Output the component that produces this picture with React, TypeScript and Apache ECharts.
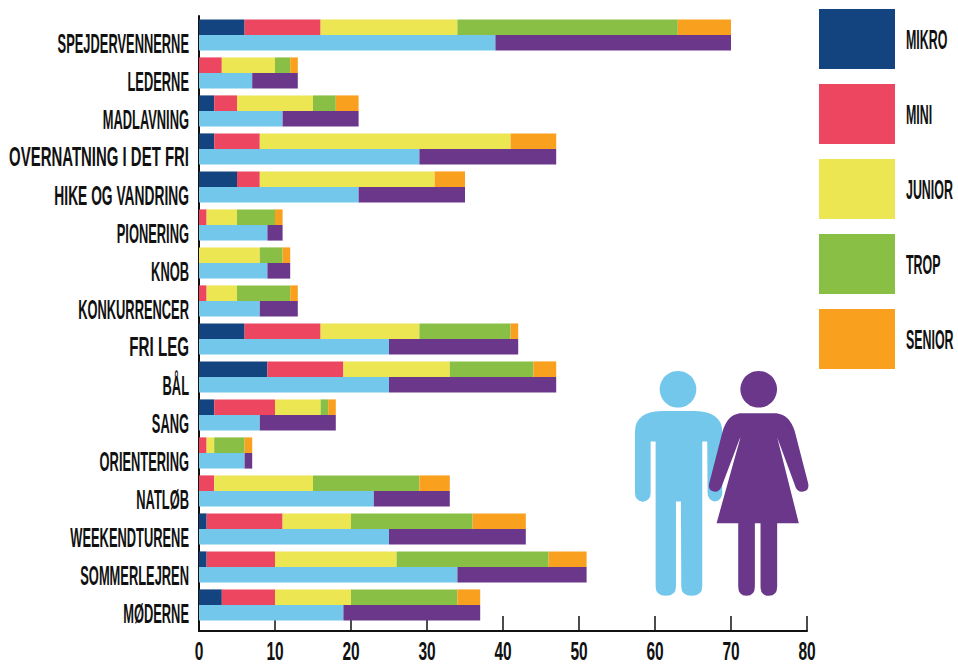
import React, { useEffect, useRef } from "react";
import * as echarts from "echarts";

const categories = ["SPEJDERVENNERNE","LEDERNE","MADLAVNING","OVERNATNING I DET FRI","HIKE OG VANDRING","PIONERING","KNOB","KONKURRENCER","FRI LEG","BÅL","SANG","ORIENTERING","NATLØB","WEEKENDTURENE","SOMMERLEJREN","MØDERNE"];
const mikro =  [6,0,2,2,5,0,0,0,6,9,2,0,0,1,1,3];
const mini =   [10,3,3,6,3,1,0,1,10,10,8,1,2,10,9,7];
const junior = [18,7,10,33,23,4,8,4,13,14,6,1,13,9,16,10];
const trop =   [29,2,3,0,0,5,3,7,12,11,1,4,14,16,20,14];
const senior = [7,1,3,6,4,1,1,1,1,3,1,1,4,7,5,3];
const boys =   [39,7,11,29,21,9,9,8,25,25,8,6,23,25,34,19];
const girls =  [31,6,10,18,14,2,3,5,17,22,10,1,10,18,17,18];
const xTicks = [0,10,20,30,40,50,60,70,80];
const legendNames = ["MIKRO","MINI","JUNIOR","TROP","SENIOR"];

const FONT = '"Liberation Sans", sans-serif';
const MAN = "M45 215 Q45 155 125 153 L225 153 Q307 155 307 215 L307 400 A22 25 0 0 1 263 400 L262 245 L247 245 L247 680 Q247 708 215 708 Q184 708 184 680 L183 425 L168 425 L168 680 Q168 708 138 708 Q107 708 107 680 L107 245 L92 245 L92 400 A23 25 0 0 1 45 400 Z";
const WOMAN = "M360 160 L470 160 Q510 165 525 215 L565 370 Q570 393 548 396 Q530 396 525 375 L475 240 L472 232 L537 490 L472 490 L472 680 Q472 708 447 708 Q422 708 422 680 L422 490 L405 490 L405 680 Q405 708 380 708 Q355 708 355 680 L355 490 L290 490 L362 232 L358 240 L307 375 Q300 396 285 396 Q262 393 268 370 L308 215 Q322 165 360 160 Z";
echarts.graphic.registerShape("manIcon", echarts.graphic.extendPath(MAN, {}));
echarts.graphic.registerShape("womanIcon", echarts.graphic.extendPath(WOMAN, {}));

const stackSeries = (name: string, data: number[], color: string, stack: string) => ({
  name, type: "bar", stack, data, barWidth: 15.6, barGap: 0,
  itemStyle: { color }, emphasis: { disabled: true },
});

const narrowText = (text: string, x: number, y: number, align: string, size: number, scaleX: number) => ({
  type: "text", x, y, scaleX,
  style: { text, align, verticalAlign: "middle", fill: "#111", font: `bold ${size}px ${FONT}` },
});

// The reference lettering has wide word gaps, so labels with spaces run a little wider.
const labelScale = (c: string) =>
  c === "OVERNATNING I DET FRI" ? 0.534 : c === "HIKE OG VANDRING" ? 0.493 : c === "FRI LEG" ? 0.54 : 0.46;

export default function App() {
  const ref = useRef<HTMLDivElement>(null);
  useEffect(() => {
    const chart = echarts.init(ref.current!, undefined, { renderer: "svg" });
    chart.setOption({
      animation: false,
      backgroundColor: "#fff",
      grid: { left: 199, top: 16, width: 608, height: 608, outerBoundsMode: "none" },
      legend: {
        data: legendNames, formatter: () => "",
        orient: "vertical", left: 819, top: 9, padding: 0,
        itemWidth: 76, itemHeight: 60, itemGap: 15, icon: "rect",
      },
      xAxis: {
        type: "value", min: 0, max: 80, interval: 10, position: "bottom", offset: 7,
        axisLine: { show: true, onZero: false, lineStyle: { color: "#111", width: 2 } },
        axisTick: { show: true, inside: true, length: 15, lineStyle: { color: "#111", width: 1.5 } },
        axisLabel: { show: false },
        splitLine: { show: false },
      },
      yAxis: {
        type: "category", inverse: true, data: categories,
        axisLine: { show: true, onZero: false, lineStyle: { color: "#111", width: 2 } },
        axisTick: { show: false },
        axisLabel: { show: false },
      },
      series: [
        stackSeries("MIKRO", mikro, "#134480", "age"),
        stackSeries("MINI", mini, "#EC4660", "age"),
        stackSeries("JUNIOR", junior, "#ECE653", "age"),
        stackSeries("TROP", trop, "#89BF45", "age"),
        stackSeries("SENIOR", senior, "#F9A01F", "age"),
        stackSeries("DRENGE", boys, "#72C7EB", "gender"),
        stackSeries("PIGER", girls, "#6A378B", "gender"),
      ],
    });
    const yLabels = categories.map((c) =>
      narrowText(c, 189, (chart.convertToPixel({ yAxisIndex: 0 }, c) as number) + 8, "right", 28, labelScale(c)));
    const xLabels = xTicks.map((t) =>
      narrowText(String(t), chart.convertToPixel({ xAxisIndex: 0 }, t) as number, 651, "center", 25, 0.62));
    const legendLabels = legendNames.map((n, i) =>
      narrowText(n, 906, 39 + i * 75, "left", 27, 0.46));
    chart.setOption({
      graphic: [
        { type: "line", shape: { x1: 199, y1: 623, x2: 199, y2: 632 }, style: { stroke: "#111", lineWidth: 2 } },
        { type: "circle", shape: { cx: 678, cy: 389.3, r: 18.3 }, style: { fill: "#72C7EB" } },
        { type: "manIcon", x: 620, y: 360, scaleX: 1/3, scaleY: 1/3, style: { fill: "#72C7EB" } },
        { type: "circle", shape: { cx: 758.7, cy: 389.3, r: 18.3 }, style: { fill: "#6A378B" } },
        { type: "womanIcon", x: 620, y: 360, scaleX: 1/3, scaleY: 1/3, style: { fill: "#6A378B" } },
        ...yLabels, ...xLabels, ...legendLabels,
      ],
    });
    return () => chart.dispose();
  }, []);
  return <div ref={ref} style={{ position: "absolute", left: 0, top: 0, width: 958, height: 664 }} />;
}
